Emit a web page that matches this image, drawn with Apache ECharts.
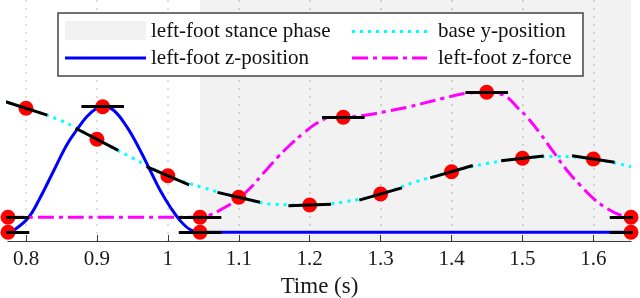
<!DOCTYPE html>
<html>
<head>
<meta charset="utf-8">
<script src="https://cdn.jsdelivr.net/npm/echarts@6/dist/echarts.min.js"></script>
<style>html,body{margin:0;padding:0;background:#fff;}#c{width:640px;height:298px;}</style>
</head>
<body>
<div id="c"></div>
<script>
// ---- data (time in s, vertical value in arbitrary plot units) ----
var xMin = 0.7746, xMax = 1.6531;
var stanceStart = 1.0454;
var xTicks = [0.8, 0.9, 1.0, 1.1, 1.2, 1.3, 1.4, 1.5, 1.6];

var blueT = [0.7746, 0.7821, 0.8032, 0.8197, 0.8385, 0.8574, 0.8715, 0.8856, 0.8997, 0.9081, 0.9231, 0.9420, 0.9607, 0.9748, 0.9889, 1.0031, 1.0172, 1.0313, 1.0454, 1.6531];
var blueH = [8.7, 10.3, 23.2, 43, 69.5, 96, 111, 124.3, 132.7, 134.3, 131, 114.3, 91, 71, 51, 34.3, 20.5, 11.5, 8.7, 8.7];

var cyanT = [0.7746, 0.8, 0.85, 0.9, 0.95, 1.0, 1.05, 1.1, 1.15, 1.2, 1.25, 1.3, 1.35, 1.4, 1.45, 1.5, 1.55, 1.6, 1.6531];
var cyanH = [138.5, 132.7, 120.2, 101.7, 83, 65.3, 53.3, 43.7, 36.7, 36, 39.3, 47, 59.3, 69.3, 77.5, 82.7, 84.5, 82, 74.3];

var magT = [0.7746, 1.0454, 1.0595, 1.0782, 1.0971, 1.1158, 1.1346, 1.1535, 1.1722, 1.1910, 1.2099, 1.2287, 1.2474, 1.2804, 1.3133, 1.3391, 1.3884, 1.4214, 1.4496, 1.4684, 1.4778, 1.4919, 1.5060, 1.5248, 1.5435, 1.5624, 1.5812, 1.5999, 1.6188, 1.6376, 1.6531];
var magH = [23.7, 23.7, 26, 32.7, 41, 52.7, 67.7, 82.7, 96, 107.7, 117.7, 123.3, 123.7, 126, 130.3, 134, 142.7, 147.7, 148.7, 147, 144.3, 134.3, 124.3, 107.7, 89.3, 71, 56, 42.7, 32.7, 26, 23.7];

// knots: time, value, slope (value units per second)
var blueKnotT = [0.7746, 0.9081, 1.0454, 1.6531];
var blueKnotH = [8.7, 134.3, 8.7, 8.7];
var blueKnotS = [0, 0, 0, 0];

var magKnotT = [0.7746, 1.0454, 1.2474, 1.4496, 1.6531];
var magKnotH = [23.7, 23.7, 123.7, 148.7, 23.7];
var magKnotS = [0, 0, 0, 0, 0];

var cyanKnotT = [0.8, 0.9, 1.0, 1.1, 1.2, 1.3, 1.4, 1.5, 1.6];
var cyanKnotH = [132.7, 101.7, 65.3, 43.7, 36, 47, 69.3, 82.7, 82];
var cyanKnotS = [-227, -369, -305, -163, 28, 206, 206, 78, -106];

var tangentHalf = 0.03;

var legendLabels = ['left-foot stance phase', 'base y-position', 'left-foot z-position', 'left-foot z-force'];

// ---- build ----
function zip(a, b) { return a.map(function (v, i) { return [v, b[i]]; }); }
var knotsAll = [];
var segs = [];
function addKnots(T, H, S) {
  for (var i = 0; i < T.length; i++) {
    knotsAll.push([T[i], H[i]]);
    segs.push({ coords: [[T[i] - tangentHalf, H[i] - S[i] * tangentHalf], [T[i] + tangentHalf, H[i] + S[i] * tangentHalf]] });
  }
}
addKnots(cyanKnotT, cyanKnotH, cyanKnotS);
addKnots(blueKnotT, blueKnotH, blueKnotS);
addKnots(magKnotT, magKnotH, magKnotS);

var FONT = 'Liberation Serif';
var chart = echarts.init(document.getElementById('c'), null, { renderer: 'canvas' });
var option = {
  animation: false,
  grid: { left: 8, right: 9, top: 0, bottom: 57, containLabel: false, outerBoundsMode: 'none' },
  xAxis: {
    type: 'value', min: xMin, max: xMax,
    minInterval: 0.1, maxInterval: 0.1,
    name: 'Time (s)', nameLocation: 'middle', nameGap: 34,
    nameTextStyle: { fontFamily: FONT, fontSize: 23, color: '#1a1a1a' },
    axisLine: { show: true, onZero: false, lineStyle: { color: '#3a3a3a', width: 1.2 } },
    axisTick: { show: true, inside: true, length: 6, lineStyle: { color: '#3a3a3a', width: 1 } },
    axisLabel: {
      show: true, margin: 8, fontFamily: FONT, fontSize: 21, color: '#1a1a1a',
      showMinLabel: false, showMaxLabel: false,
      formatter: function (v) {
        for (var i = 0; i < xTicks.length; i++) if (Math.abs(v - xTicks[i]) < 1e-6) return String(xTicks[i]);
        return '';
      }
    },
    splitLine: { show: true, showMinLine: false, showMaxLine: false, lineStyle: { color: '#d2d2d2', width: 1.5, type: [2, 6] } }
  },
  yAxis: { type: 'value', min: 0, max: 241, show: false, splitLine: { show: false } },
  series: [
    {
      name: 'stance', type: 'line', data: [], z: 1,
      markArea: { silent: true, itemStyle: { color: 'rgba(0,0,0,0.052)' }, data: [[{ xAxis: stanceStart }, { xAxis: xMax }]] }
    },
    {
      name: legendLabels[1], type: 'line', data: zip(cyanT, cyanH), smooth: 0.4, showSymbol: false, z: 2,
      lineStyle: { color: '#00ffff', width: 3, type: [3, 5], cap: 'butt' }
    },
    {
      name: legendLabels[2], type: 'line', data: zip(blueT, blueH), smooth: 0.4, showSymbol: false, z: 2,
      lineStyle: { color: '#0000ff', width: 3 }
    },
    {
      name: legendLabels[3], type: 'line', data: zip(magT, magH), smooth: 0.4, showSymbol: false, z: 2,
      lineStyle: { color: '#ff00ff', width: 3, type: [16, 5, 4, 5] }
    },
    {
      name: 'knots', type: 'scatter', data: knotsAll, symbol: 'circle', symbolSize: 15, z: 3,
      itemStyle: { color: '#ff0000', opacity: 1 }, clip: false
    },
    {
      name: 'tangents', type: 'lines', coordinateSystem: 'cartesian2d', data: segs, z: 4, clip: true,
      lineStyle: { color: '#000', width: 3, opacity: 1 }, symbol: 'none'
    }
  ],
  graphic: [
    { type: 'rect', z: 100, shape: { x: 58, y: 13, width: 525, height: 63 }, style: { fill: '#fff', stroke: '#444', lineWidth: 1.5 } },
    { type: 'rect', z: 101, shape: { x: 65, y: 21, width: 81, height: 19 }, style: { fill: '#f2f2f2' } },
    { type: 'line', z: 101, shape: { x1: 65, y1: 58, x2: 146, y2: 58 }, style: { stroke: '#0000ff', lineWidth: 3 } },
    { type: 'line', z: 101, shape: { x1: 352, y1: 31.5, x2: 427, y2: 31.5 }, style: { stroke: '#00ffff', lineWidth: 3, lineDash: [3, 5] } },
    { type: 'line', z: 101, shape: { x1: 352, y1: 58, x2: 427, y2: 58 }, style: { stroke: '#ff00ff', lineWidth: 3, lineDash: [16, 5, 4, 5] } },
    { type: 'text', z: 101, x: 151, y: 31.5, style: { text: legendLabels[0], font: '21px "Liberation Serif"', fill: '#111', verticalAlign: 'middle' } },
    { type: 'text', z: 101, x: 438, y: 31.5, style: { text: legendLabels[1], font: '21px "Liberation Serif"', fill: '#111', verticalAlign: 'middle' } },
    { type: 'text', z: 101, x: 151, y: 58, style: { text: legendLabels[2], font: '21px "Liberation Serif"', fill: '#111', verticalAlign: 'middle' } },
    { type: 'text', z: 101, x: 438, y: 58, style: { text: legendLabels[3], font: '21px "Liberation Serif"', fill: '#111', verticalAlign: 'middle' } }
  ]
};
chart.setOption(option);
</script>
</body>
</html>
